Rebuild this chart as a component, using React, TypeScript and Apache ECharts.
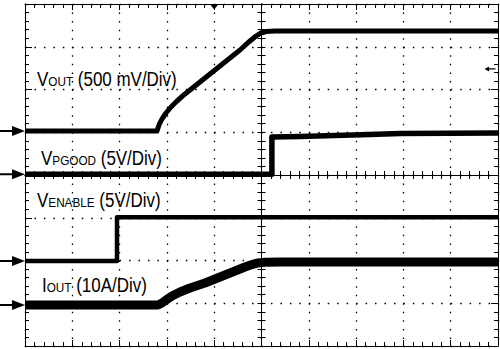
import React, { useEffect, useRef } from 'react';
import * as echarts from 'echarts';

// Scope screen in divisions: 10 horizontal x 8 vertical, centred on 0
const X_MIN = -5;
const X_MAX = 5;
const Y_MIN = -4;
const Y_MAX = 4;

// V_OUT trace (div)
const voutX = [-5, -2.209, -2.167, -2.104, -2.019, -1.913, -1.786, -1.617, -1.406, -1.089, -0.772, -0.455, -0.243, -0.116, -0.011, 0.095, 0.285, 5];
const voutY = [1.03, 1.03, 1.17, 1.31, 1.45, 1.591, 1.731, 1.895, 2.082, 2.363, 2.643, 2.924, 3.135, 3.251, 3.322, 3.357, 3.368, 3.368];

// V_PGOOD trace (div)
const pgoodX = [-5, 0.22, 0.22, 0.81, 2.29, 2.93, 5];
const pgoodY = [0.02, 0.02, 0.89, 0.9, 0.95, 0.97, 0.98];

// V_ENABLE trace (div)
const enableX = [-5, -3.055, -3.055, 5];
const enableY = [-2.01, -2.01, -0.99, -0.99];

// I_OUT trace (div)
const ioutX = [-5, -2.188, -2.104, -2.019, -1.892, -1.723, -1.512, -1.195, -0.877, -0.56, -0.349, -0.201, -0.074, 0.074, 0.391, 5];
const ioutY = [-3.041, -3.041, -2.994, -2.924, -2.83, -2.737, -2.643, -2.526, -2.386, -2.246, -2.152, -2.094, -2.058, -2.042, -2.035, -2.035];

// Ground reference markers (div)
const groundLevels = { vout: 1.03, pgood: 0.02, enable: -2.01, iout: -3.04 };
const triggerPosition = -1; // top marker
const triggerLevel = 2.48; // right marker

const zip = (xs: number[], ys: number[]) => xs.map((x, i) => [x, ys[i]]);

const GROUND_ARROW = 'path://M0,4L12,4L12,0L25,5L12,10L12,6L0,6Z';
const LEFT_ARROW = 'path://M0,2L5,0L5,1.5L12,1.5L12,2.5L5,2.5L5,4Z';

const FONT = 'Liberation Sans, Arial, sans-serif';

function label(x: number, baseline: number, main: string, sub: string, rest: string) {
  return {
    type: 'text',
    x,
    y: baseline - 7,
    scaleX: 0.87,
    silent: true,
    style: {
      text: `{a|${main}}{b|${sub}}{a|${rest}}`,
      align: 'left',
      verticalAlign: 'middle',
      fill: '#000',
      rich: {
        a: { fontSize: 19.5, fontFamily: FONT, fill: '#000', verticalAlign: 'bottom' },
        b: { fontSize: 13.5, fontFamily: FONT, fill: '#000', verticalAlign: 'bottom' },
      },
    },
  };
}

function xAxisDef(extra: any) {
  return {
    type: 'value',
    min: X_MIN,
    max: X_MAX,
    interval: 1,
    axisLabel: { show: false },
    axisLine: { show: true, lineStyle: { color: '#000', width: 1 } },
    splitLine: { show: false },
    minorTick: { show: true, splitNumber: 5, length: 4, lineStyle: { color: '#000' } },
    ...extra,
  };
}

function yAxisDef(extra: any) {
  return {
    type: 'value',
    min: Y_MIN,
    max: Y_MAX,
    interval: 1,
    axisLabel: { show: false },
    axisLine: { show: true, lineStyle: { color: '#000', width: 1 } },
    splitLine: { show: false },
    minorTick: { show: true, splitNumber: 5, length: 4, lineStyle: { color: '#000' } },
    ...extra,
  };
}

function trace(name: string, xs: number[], ys: number[], width: number, ground: number, extraMarks: any[] = []) {
  return {
    type: 'line',
    name,
    data: zip(xs, ys),
    xAxisIndex: 0,
    yAxisIndex: 0,
    showSymbol: false,
    silent: true,
    lineStyle: { color: '#000', width, join: 'round', cap: 'butt' },
    markPoint: {
      silent: true,
      label: { show: false },
      data: [
        {
          coord: [X_MIN, ground],
          symbol: GROUND_ARROW,
          symbolSize: [25, 10],
          symbolOffset: [-12.5, 0],
          symbolKeepAspect: false,
          itemStyle: { color: '#000' },
        },
        ...extraMarks,
      ],
    },
  };
}

export default function App() {
  const ref = useRef<HTMLDivElement>(null);

  useEffect(() => {
    if (!ref.current) return;
    const chart = echarts.init(ref.current, null, { renderer: 'svg' });
    const option: any = {
      animation: false,
      backgroundColor: '#fff',
      grid: { left: 25, top: 4, width: 473, height: 342, containLabel: false },
      xAxis: [
        xAxisDef({
          position: 'bottom',
          axisLine: { show: true, onZero: false, lineStyle: { color: '#000', width: 1 } },
          axisTick: { show: true, inside: true, length: 6, lineStyle: { color: '#000' } },
          splitLine: { show: true, lineStyle: { color: '#000', width: 1.3, type: [1.5, 7.05] } },
        }),
        xAxisDef({
          position: 'top',
          axisLine: { show: true, onZero: false, lineStyle: { color: '#000', width: 1 } },
          axisTick: { show: true, inside: true, length: 6, lineStyle: { color: '#000' } },
        }),
        xAxisDef({
          position: 'bottom',
          axisLine: { show: true, onZero: true, onZeroAxisIndex: 0, lineStyle: { color: '#000', width: 1 } },
          axisTick: { show: true, inside: true, length: 4, lineStyle: { color: '#000' } },
        }),
        xAxisDef({
          position: 'bottom',
          axisLine: { show: true, onZero: true, onZeroAxisIndex: 0, lineStyle: { color: '#000', width: 1 } },
          axisTick: { show: true, inside: false, length: 4, lineStyle: { color: '#000' } },
        }),
      ],
      yAxis: [
        yAxisDef({
          position: 'left',
          axisLine: { show: true, onZero: false, lineStyle: { color: '#000', width: 1 } },
          axisTick: { show: true, inside: true, length: 7, lineStyle: { color: '#000' } },
          splitLine: { show: true, lineStyle: { color: '#000', width: 1.3, type: [1.5, 7.96] } },
        }),
        yAxisDef({
          position: 'right',
          axisLine: { show: true, onZero: false, lineStyle: { color: '#000', width: 1 } },
          axisTick: { show: true, inside: true, length: 7, lineStyle: { color: '#000' } },
        }),
        yAxisDef({
          position: 'left',
          axisLine: { show: true, onZero: true, onZeroAxisIndex: 0, lineStyle: { color: '#000', width: 1 } },
          axisTick: { show: true, inside: true, length: 4, lineStyle: { color: '#000' } },
        }),
        yAxisDef({
          position: 'left',
          axisLine: { show: true, onZero: true, onZeroAxisIndex: 0, lineStyle: { color: '#000', width: 1 } },
          axisTick: { show: true, inside: false, length: 4, lineStyle: { color: '#000' } },
        }),
      ],
      series: [
        trace('VOUT', voutX, voutY, 5, groundLevels.vout, [
          {
            coord: [triggerPosition, Y_MAX],
            symbol: 'triangle',
            symbolRotate: 180,
            symbolSize: [8, 5],
            symbolOffset: [0, 3],
            itemStyle: { color: '#000' },
          },
          {
            coord: [X_MAX, triggerLevel],
            symbol: LEFT_ARROW,
            symbolSize: [11, 5],
            symbolOffset: [-8, 0],
            symbolKeepAspect: false,
            itemStyle: { color: '#000' },
          },
        ]),
        trace('PGOOD', pgoodX, pgoodY, 5.5, groundLevels.pgood),
        trace('ENABLE', enableX, enableY, 4.5, groundLevels.enable),
        trace('IOUT', ioutX, ioutY, 9, groundLevels.iout),
      ],
      graphic: [
        label(37, 86, 'V', 'OUT', ' (500 mV/Div)'),
        label(41, 165, 'V', 'PGOOD', ' (5V/Div)'),
        label(37, 207, 'V', 'ENABLE', ' (5V/Div)'),
        label(42, 292, 'I', 'OUT', ' (10A/Div)'),
      ],
    };
    chart.setOption(option);
    return () => chart.dispose();
  }, []);

  return (
    <div
      ref={ref}
      style={{ position: 'absolute', left: 0, top: 0, width: 500, height: 349, background: '#fff' }}
    />
  );
}
